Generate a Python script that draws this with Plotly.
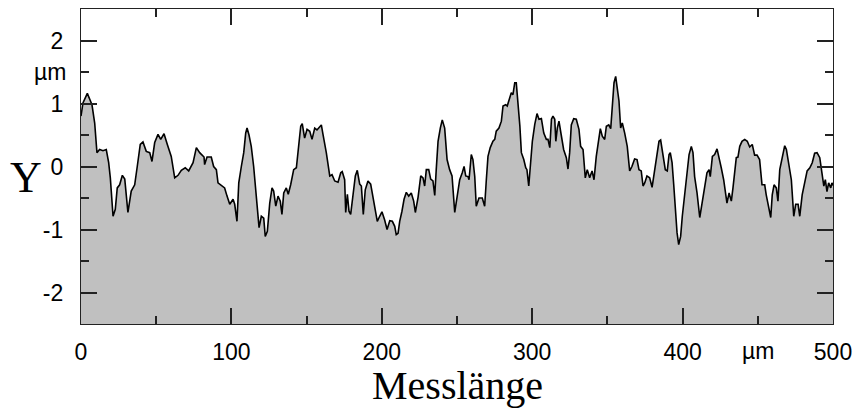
import plotly.graph_objects as go

# Profile data (x in µm, y in µm)
x_um = [0, 1.3, 4.2, 5.8, 7.3, 9.1, 10.6, 12.4, 14.6, 16.8, 18.4, 19.5, 21.3, 22.8, 24.1, 25.7, 27.5, 29.1, 31.2, 33.4,
        35.7, 37.4, 39.4, 41.2, 43.4, 45.7, 47.2, 49.0, 51.2, 53.0, 55.2, 57.4, 60.0, 62.3, 64.5, 66.7, 69.3, 71.6, 74.5, 76.7,
        78.9, 81.8, 82.2, 83.8, 86.6, 88.2, 90.0, 91.1, 93.3, 95.5, 97.1, 98.9, 101.1, 102.2, 103.7, 104.9, 106.6, 108.2, 109.5, 110.4,
        111.7, 113.2, 114.8, 116.2, 117.2, 118.4, 119.9, 121.5, 122.5, 123.9, 125.5, 127.0, 128.1, 129.5, 131.0, 132.5, 133.6, 134.8, 136.5, 137.8,
        139.4, 141.4, 143.2, 144.7, 146.1, 147.1, 148.7, 150.3, 152.1, 153.6, 155.4, 156.9, 158.7, 159.8, 160.9, 163.1,
        165.4, 166.9, 168.7, 170.9, 172.7, 173.7, 175.3, 176.0, 177.1, 178.2, 179.3, 180.9, 182.4, 183.7, 185.3, 186.4, 187.7, 189.0, 190.8, 192.6,
        194.1, 195.7, 197.0, 198.6, 200.1, 201.9, 203.5, 205.3, 207.0, 208.6, 209.6, 210.8, 211.9, 213.4, 214.8, 216.3, 217.9, 219.6, 221.2, 222.3,
        224.1, 225.9, 227.4, 228.5, 229.6, 231.2, 232.5, 234.0, 235.2, 236.2, 237.4, 238.9, 240.2, 241.8, 243.4, 245.1, 246.7,
        248.5, 250.0, 251.8, 253.5, 254.7, 255.8, 257.3, 258.0, 259.5, 260.6, 261.8, 262.8, 264.6, 266.8, 268.4, 269.5, 270.6, 272.1, 273.9, 275.1,
        276.1, 277.9, 279.5, 280.6, 282.4, 283.4, 285.0, 286.1, 287.2, 288.4, 289.4, 290.6, 291.8, 292.8, 294.4, 295.7, 296.5, 297.7, 298.7, 300.1,
        301.7, 303.2, 304.5, 306.1, 307.7, 309.4, 310.5, 311.7, 312.8, 313.8, 315.0, 315.7, 316.7, 317.8, 319.3, 320.9, 322.7, 323.8, 324.9, 326.0,
        327.6, 329.3, 331.1, 332.2, 333.8,
        334.4, 335.3, 336.6, 338.2, 339.8, 341.1, 342.6, 343.8, 345.3, 346.6, 348.2, 349.3, 350.9, 352.2, 353.3, 354.4, 355.5, 356.6, 357.7, 358.8,
        359.9, 361.5, 363.2, 364.8, 366.3, 368.1, 369.7, 371.0, 372.5, 373.7, 374.8, 376.3, 378.1, 379.7, 381.4, 383.0, 384.3, 385.4, 387.0, 388.5,
        389.8, 391.0, 391.8, 393.0, 394.1, 395.1, 396.3, 397.4, 398.7, 399.8, 401.4, 402.9, 404.3, 405.8, 406.9, 408.0, 409.6, 411.4, 412.9, 414.7,
        416.2, 417.6, 418.4, 419.8, 421.3, 422.9, 424.2, 425.7, 427.3, 428.7, 429.5, 430.9, 432.4, 433.5, 434.6, 435.7, 436.8, 438.0, 439.5, 441.3,
        443.0, 444.6, 446.3, 447.9, 449.5, 451.2, 452.8, 454.6, 455.6, 457.0, 458.6, 459.6, 460.8, 462.3, 463.4, 464.6, 466.3, 467.9, 469.0, 470.7,
        472.3, 473.9, 475.2, 476.8, 477.9, 479.5, 481.3, 482.8, 484.6, 486.2, 487.8, 489.4, 491.2, 492.5, 493.9, 494.9, 496.0, 497.1, 498.5, 499.3,
        500]
y_um = [0.80, 1.01, 1.16, 1.07, 0.98, 0.69, 0.22, 0.27, 0.25, 0.27, 0.06, -0.18, -0.79, -0.68, -0.34, -0.29, -0.14, -0.20, -0.73, -0.39,
        -0.29, 0.0, 0.35, 0.39, 0.24, 0.22, 0.08, 0.38, 0.51, 0.43, 0.52, 0.35, 0.16, -0.18, -0.14, -0.06, -0.02, -0.07, 0.06, 0.30,
        0.22, 0.15, 0.03, 0.15, 0.15, 0.0, -0.05, -0.26, -0.30, -0.34, -0.47, -0.60, -0.52, -0.60, -0.87, -0.26, 0.0, 0.22, 0.53, 0.61,
        0.50, 0.32, 0.0, -0.37, -0.73, -0.97, -0.79, -0.82, -1.11, -1.03, -0.58, -0.34, -0.39, -0.63, -0.47, -0.55, -0.76, -0.42, -0.34, -0.44,
        -0.29, -0.05, -0.02, 0.38, 0.64, 0.68, 0.45, 0.59, 0.56, 0.43, 0.61, 0.58, 0.64, 0.66, 0.51, 0.22,
        -0.15, -0.13, -0.23, -0.25, -0.10, -0.08, -0.21, -0.73, -0.44, -0.71, -0.76, -0.42, -0.15, -0.06, -0.28, -0.31, -0.76, -0.37, -0.23, -0.28,
        -0.47, -0.73, -0.87, -0.79, -0.72, -0.85, -1.0, -0.86, -0.87, -0.95, -1.08, -1.06, -0.87, -0.71, -0.52, -0.41, -0.47, -0.42, -0.55, -0.73,
        -0.49, -0.15, -0.18, -0.31, -0.05, -0.05, -0.20, -0.23, -0.46, -0.05, 0.40, 0.61, 0.74, 0.61, 0.11, -0.05, -0.15,
        -0.73, -0.50, -0.21, -0.10, 0.0, -0.15, -0.16, -0.21, 0.19, 0.11, -0.16, -0.63, -0.50, -0.50, -0.63, -0.21, 0.16, 0.30, 0.40, 0.43,
        0.56, 0.61, 0.72, 0.96, 0.98, 0.96, 1.09, 1.17, 1.14, 1.33, 1.33, 1.01, 0.64, 0.22, 0.11, -0.02, -0.05, -0.31, 0.0, 0.40,
        0.67, 0.84, 0.75, 0.76, 0.53, 0.43, 0.43, 0.30, 0.75, 0.80, 0.75, 0.40, 0.61, 0.72, 0.50, 0.27, 0.14, -0.04, 0.22, 0.66,
        0.76, 0.75, 0.59, 0.32, 0.27,
        0.06, -0.18, -0.05, -0.18, -0.07, -0.21, 0.16, 0.35, 0.60, 0.48, 0.43, 0.64, 0.66, 0.60, 1.01, 1.33, 1.43, 1.27, 1.04, 0.61,
        0.69, 0.53, 0.32, -0.07, 0.0, 0.12, 0.11, -0.05, -0.07, -0.31, -0.26, -0.15, -0.18, -0.33, -0.05, 0.22, 0.40, 0.42, 0.16, -0.05,
        -0.07, 0.19, 0.22, 0.06, -0.29, -0.68, -1.05, -1.24, -1.11, -0.79, -0.44, -0.21, 0.19, 0.32, 0.22, -0.16, -0.42, -0.81, -0.58, -0.37,
        -0.10, -0.05, -0.16, 0.16, 0.19, 0.28, 0.11, -0.02, -0.21, -0.42, -0.58, -0.42, -0.55, -0.34, -0.05, 0.14, 0.15, 0.32, 0.40, 0.43,
        0.40, 0.31, 0.35, 0.18, 0.18, 0.11, -0.29, -0.29, -0.45, -0.63, -0.81, -0.45, -0.29, -0.34, -0.55, -0.05, 0.15, 0.33, 0.27, 0.03,
        -0.21, -0.79, -0.60, -0.60, -0.79, -0.45, -0.21, -0.07, -0.02, 0.06, 0.21, 0.22, 0.14, -0.10, -0.31, -0.21, -0.40, -0.26, -0.34, -0.26,
        -0.30]

x_range = [0, 500]
y_range = [-2.5, 2.5]
x_ticks = [0, 100, 200, 300, 400, 500]
x_ticklabels = ["0", "100", "200", "300", "400", "500"]
y_ticks = [-2, -1, 0, 1, 2]
y_ticklabels = ["-2", "-1", "0", "1", "2"]

fig = go.Figure()
# baseline at the bottom of the axis so the fill reaches the frame
fig.add_trace(go.Scatter(x=[x_um[0], x_um[-1]], y=[y_range[0], y_range[0]], mode="lines",
                         line=dict(width=0, color="rgba(0,0,0,0)"), hoverinfo="skip", showlegend=False))
fig.add_trace(go.Scatter(x=x_um, y=y_um, mode="lines", fill="tonexty", fillcolor="#c0c0c0",
                         line=dict(color="black", width=1.6), showlegend=False))

tick_font = dict(family="Liberation Sans, Arial, sans-serif", size=23, color="black")
axis_common = dict(showline=True, linecolor="#222", linewidth=1.3, mirror="allticks",
                   ticks="inside", ticklen=16, tickwidth=1.5, tickcolor="#222",
                   showgrid=False, zeroline=False, tickfont=tick_font, automargin=False)

fig.update_xaxes(range=x_range, tickvals=x_ticks, ticktext=x_ticklabels,
                 minor=dict(dtick=50, ticklen=8, tickwidth=1.5, tickcolor="#222", ticks="inside"),
                 ticklabelstandoff=7, **axis_common)
fig.update_yaxes(range=y_range, tickvals=y_ticks, ticktext=y_ticklabels,
                 minor=dict(dtick=0.5, ticklen=8, tickwidth=1.5, tickcolor="#222", ticks="inside"),
                 ticklabelstandoff=12, **axis_common)

serif = "Liberation Serif, Times New Roman, serif"
fig.add_annotation(text="µm", x=450, y=0, xref="x", yref="paper", xanchor="center", yanchor="middle",
                   yshift=-27, showarrow=False, font=tick_font)
fig.add_annotation(text="µm", x=0, y=1.5, xref="paper", yref="y", xanchor="right", yanchor="middle",
                   xshift=-13, showarrow=False, font=tick_font)
fig.add_annotation(text="Y", x=0, y=0.5, xref="paper", yref="paper", xanchor="center", yanchor="middle",
                   xshift=-55, yshift=-11, showarrow=False, font=dict(family=serif, size=44, color="black"))
fig.add_annotation(text="Messlänge", x=0.5, y=0, xref="paper", yref="paper", xanchor="center", yanchor="middle",
                   yshift=-61, showarrow=False, font=dict(family=serif, size=40, color="black"))

fig.update_layout(width=854, height=410, margin=dict(l=81, r=21, t=9, b=86),
                  plot_bgcolor="white", paper_bgcolor="white")

# remove the default page margin so the 854x410 figure fills the window exactly
fig.write_html("out.html", config={"displayModeBar": False},
               post_script="document.body.style.margin='0px';"
                           "document.documentElement.style.overflow='hidden';"
                           "document.body.style.overflow='hidden';")
